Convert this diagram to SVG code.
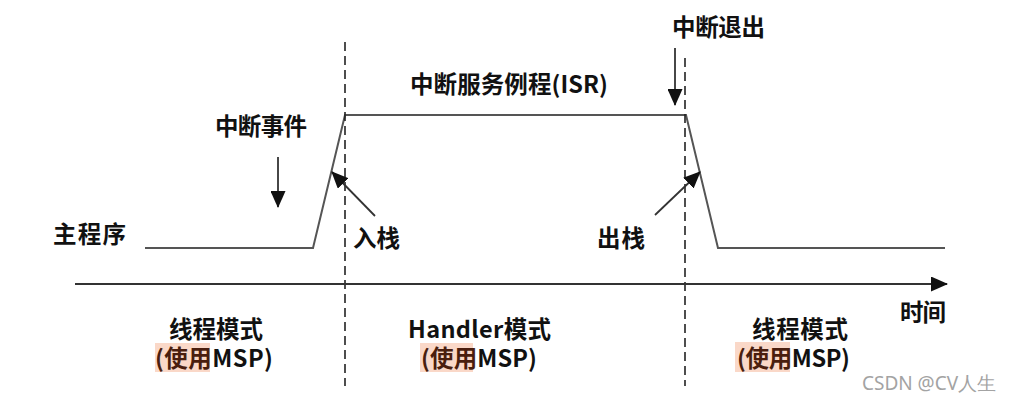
<svg xmlns="http://www.w3.org/2000/svg" width="1011" height="401" viewBox="0 0 1011 401">
<style>
.t{font-family:"Noto Sans CJK SC","Microsoft YaHei",sans-serif;font-weight:bold;font-size:23.5px;fill:#111}
.hl{fill:#4a1e0e}
.wave{fill:none;stroke:#555;stroke-width:2}
.dash{fill:none;stroke:#222;stroke-width:1.6;stroke-dasharray:9,5}
.arr{fill:none;stroke:#333;stroke-width:1.8}
.wm{font-family:"Noto Sans","Liberation Sans",sans-serif;font-size:19px;fill:#a3a3a3}
</style>
<defs>
<marker id="ah" markerUnits="userSpaceOnUse" markerWidth="17" markerHeight="15" refX="16" refY="7.5" orient="auto"><path d="M0,0 L17,7.5 L0,15 z" fill="#111"/></marker>
</defs>
<rect width="1011" height="401" fill="#fff"/>
<g id="connectors">
<polyline class="wave" points="145,248 313,248 345,115 686,115 718,248 945,248"/>
<line class="dash" x1="345" y1="42" x2="345" y2="386"/>
<line class="dash" x1="685" y1="58" x2="685" y2="386"/>
<line class="arr" x1="75" y1="284" x2="947" y2="284" marker-end="url(#ah)"/>
<line class="arr" x1="278" y1="157" x2="278" y2="207" marker-end="url(#ah)"/>
<line class="arr" x1="675" y1="48" x2="675" y2="105" marker-end="url(#ah)"/>
<line class="arr" x1="375" y1="216" x2="332" y2="172" marker-end="url(#ah)"/>
<line class="arr" x1="655" y1="215" x2="700" y2="172" marker-end="url(#ah)"/>
</g>
<g id="main-program"><text class="t" x="53" y="243" textLength="73">主程序</text></g>
<g id="irq-event"><text class="t" x="215" y="135" textLength="92">中断事件</text></g>
<g id="isr"><text class="t" x="410" y="93" textLength="198">中断服务例程(ISR)</text></g>
<g id="irq-exit"><text class="t" x="672" y="36" textLength="93">中断退出</text></g>
<g id="push"><text class="t" x="353" y="247" textLength="47">入栈</text></g>
<g id="pop"><text class="t" x="597" y="247" textLength="48">出栈</text></g>
<g id="time"><text class="t" x="900" y="321" textLength="46">时间</text></g>
<g id="thread-left">
<text class="t" x="169" y="338" textLength="94">线程模式</text>
<rect x="155" y="343" width="55" height="29" fill="#fad8c8"/>
<text class="t" x="155" y="367" textLength="118"><tspan class="hl">(使用</tspan>MSP)</text>
</g>
<g id="handler">
<text class="t" x="408" y="338" textLength="143">Handler模式</text>
<rect x="420" y="343" width="53" height="29" fill="#fad8c8"/>
<text class="t" x="421" y="367" textLength="116"><tspan class="hl">(使用</tspan>MSP)</text>
</g>
<g id="thread-right">
<text class="t" x="752" y="338" textLength="96">线程模式</text>
<rect x="735" y="342" width="55" height="30" fill="#fad8c8"/>
<text class="t" x="737" y="367" textLength="113"><tspan class="hl">(使用</tspan>MSP)</text>
</g>
<text class="wm" x="862" y="390" textLength="134">CSDN @CV人生</text>
</svg>
